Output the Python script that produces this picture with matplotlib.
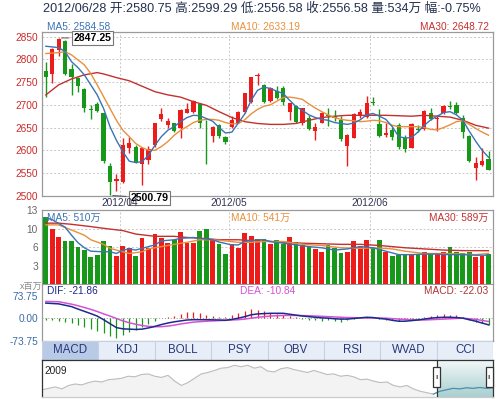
import numpy as np
import matplotlib.pyplot as plt
from matplotlib.patches import Rectangle
from matplotlib.colors import LinearSegmentedColormap

plt.rcParams['font.family'] = ['Liberation Sans', 'Noto Sans CJK SC', 'DejaVu Sans']

# ---- daily candles (2012/03 - 2012/06/28) ----
opens = [2775, 2769, 2820, 2840, 2780, 2758, 2734, 2691, 2702, 2681,
         2565, 2533, 2531, 2605, 2608, 2569, 2578, 2611, 2668, 2655,
         2659, 2650, 2683, 2685, 2702, 2639, 2631, 2655, 2630, 2652,
         2661, 2685, 2707, 2763, 2744, 2709, 2730, 2736, 2685, 2697,
         2661, 2672, 2643, 2661, 2677, 2675, 2666, 2609, 2628, 2675,
         2674, 2706, 2658, 2633, 2644, 2655, 2628, 2606, 2647, 2646,
         2681, 2668, 2681, 2697, 2699, 2672, 2631, 2560, 2567, 2580.75]
highs = [2795, 2826, 2847.25, 2842, 2791, 2762, 2736, 2699, 2707, 2682,
         2571, 2547, 2628, 2630, 2612, 2608, 2610, 2661, 2694, 2672,
         2661, 2690, 2703, 2710, 2704, 2666, 2654, 2657, 2632, 2675,
         2687, 2727, 2762, 2771, 2746, 2740, 2741, 2741, 2705, 2699,
         2694, 2677, 2659, 2685, 2694, 2688, 2675, 2635, 2681, 2690,
         2719, 2718, 2691, 2661, 2651, 2661, 2633, 2659, 2655, 2688,
         2692, 2677, 2699, 2709, 2707, 2677, 2633, 2586, 2606, 2599.29]
lows = [2718, 2749, 2808, 2766, 2721, 2729, 2685, 2669, 2684, 2573,
        2500.79, 2510, 2528, 2595, 2573, 2523, 2569, 2607, 2665, 2650,
        2641, 2628, 2681, 2683, 2650, 2570, 2619, 2626, 2613, 2648,
        2659, 2683, 2705, 2744, 2705, 2707, 2712, 2699, 2666, 2661,
        2655, 2644, 2622, 2659, 2653, 2664, 2621, 2565, 2626, 2672,
        2671, 2699, 2630, 2630, 2622, 2603, 2597, 2604, 2640, 2644,
        2666, 2643, 2679, 2690, 2679, 2628, 2575, 2534, 2565, 2556.58]
closes = [2762, 2823, 2845, 2769, 2762, 2741, 2694, 2689, 2687, 2576,
          2531, 2536, 2611, 2615, 2575, 2606, 2603, 2659, 2680, 2665,
          2643, 2688, 2691, 2708, 2661, 2637, 2652, 2631, 2619, 2666,
          2685, 2725, 2762, 2765, 2707, 2736, 2714, 2707, 2703, 2663,
          2692, 2647, 2652, 2683, 2675, 2670, 2624, 2633, 2679, 2685,
          2703, 2704, 2632, 2639, 2630, 2608, 2602, 2657, 2645, 2686,
          2668, 2670, 2697, 2695, 2681, 2641, 2577, 2571, 2576, 2556.58]
volumes = [11.7, 9.6, 8.3, 7.6, 7.6, 6.6, 6.0, 4.8, 5.1, 7.5,
           6.7, 5.0, 6.7, 6.3, 5.0, 8.1, 6.3, 8.8, 8.1, 7.2,
           7.7, 9.2, 7.3, 7.2, 9.3, 9.75, 8.0, 7.1, 5.3, 7.1,
           6.3, 8.9, 8.4, 8.0, 8.0, 7.1, 7.7, 7.1, 8.3, 7.4,
           6.9, 6.6, 6.1, 5.7, 6.8, 6.4, 5.4, 5.7, 7.6, 6.7,
           7.7, 6.4, 7.7, 5.6, 4.9, 5.1, 5.3, 5.2, 5.1, 5.6,
           5.4, 5.4, 5.7, 6.5, 5.6, 5.4, 5.6, 4.8, 5.0, 5.34]
macd_hist = [-6, -7, -9, -12, -16, -22, -28, -35, -42, -50,
             -58, -66, -56, -46, -38, -30, -20, -10, 2, 5,
             8, 13, 20, 21, 18, 12, 8, 5, 3, 10,
             18, 24, 30, 26, 22, 18, 14, 10, 6, 3,
             -2, -5, -6, -8, -6, -9, -11, -7, -3, 1,
             3, 2, -2, -5, -7, -9, -6, -4, -2, 3,
             8, 12, 15, 12, 9, 4, -5, -11, -17, -22]

# ---- moving averages (candle number, value) ----
ma5_day = [1, 3, 4, 5, 6, 7, 8, 9, 10, 11, 12, 13, 14, 15, 16, 17, 18, 19, 20, 21, 22, 23, 24, 25,
           26, 27, 28, 29, 30, 31, 32, 33, 34, 35, 36, 37, 38, 39, 40, 41, 42, 43, 44, 45, 46, 47,
           48, 49, 50, 51, 52, 53, 54, 55, 56, 57, 58, 59, 60, 61, 62, 63, 64, 65, 66, 67, 68, 69, 70]
ma5 = [2829, 2826, 2817, 2795, 2782, 2766, 2744, 2722, 2692, 2652, 2622, 2597, 2576, 2573, 2575,
       2589, 2611, 2630, 2644, 2652, 2663, 2672, 2677, 2676, 2670, 2664, 2650, 2638, 2640, 2660,
       2680, 2710, 2732, 2739, 2736, 2730, 2725, 2710, 2696, 2688, 2678, 2672, 2668, 2666, 2661,
       2659, 2657, 2660, 2667, 2678, 2681, 2675, 2668, 2652, 2630, 2627, 2628, 2640, 2655, 2667,
       2675, 2683, 2685, 2678, 2666, 2642, 2620, 2600, 2584.58]
ma10_day = [1, 3, 4, 5, 6, 7, 8, 9, 10, 11, 12, 13, 14, 15, 16, 17, 18, 19, 20, 21, 22, 23, 24, 25,
            26, 27, 28, 29, 30, 31, 32, 33, 34, 35, 36, 37, 38, 39, 40, 41, 42, 43, 44, 45, 46, 47,
            48, 49, 50, 51, 52, 53, 54, 55, 56, 57, 58, 59, 60, 61, 62, 63, 64, 65, 66, 67, 68, 69, 70]
ma10 = [2813, 2815, 2817, 2810, 2799, 2788, 2769, 2744, 2718, 2692, 2666, 2644, 2630, 2615, 2606,
        2600, 2600, 2608, 2619, 2633, 2644, 2652, 2661, 2666, 2668, 2668, 2666, 2661, 2658, 2659,
        2667, 2680, 2690, 2697, 2700, 2708, 2716, 2717, 2715, 2712, 2702, 2693, 2685, 2678, 2672,
        2668, 2666, 2665, 2663, 2664, 2666, 2665, 2661, 2655, 2652, 2652, 2652, 2652, 2650, 2646,
        2645, 2650, 2656, 2663, 2665, 2657, 2648, 2640, 2633.19]
ma30_day = [1, 3, 5, 7, 9, 10, 12, 14, 16, 18, 20, 22, 24, 26, 28, 30, 32, 34, 36, 38, 40, 42, 44,
            46, 48, 50, 52, 54, 56, 58, 60, 62, 64, 66, 68, 70]
ma30 = [2722, 2744, 2757, 2766, 2771, 2768, 2760, 2753, 2741, 2729, 2722, 2717, 2707, 2699, 2685,
        2672, 2663, 2659, 2657, 2657, 2659, 2666, 2672, 2675, 2677, 2677, 2677, 2677, 2676, 2675,
        2677, 2675, 2673, 2666, 2655, 2648.72]

vma5_day = [1, 2, 4, 5, 6, 7, 8, 10, 11, 12, 13, 14, 15, 16, 18, 19, 21, 22, 24, 25, 27, 28, 30, 31,
            32, 34, 35, 36, 38, 40, 42, 44, 46, 48, 50, 52, 54, 56, 58, 60, 62, 64, 66, 68, 70]
vma5 = [11.65, 11.3, 10.0, 8.6, 7.3, 6.4, 5.8, 5.7, 5.7, 5.4, 6.0, 6.2, 6.0, 6.3, 6.9, 7.6, 7.8,
        8.05, 8.2, 8.05, 7.8, 7.4, 6.9, 6.9, 7.5, 7.8, 7.8, 7.5, 7.2, 6.9, 6.6, 6.4, 6.0, 6.2, 6.6,
        6.4, 5.8, 5.2, 5.2, 5.3, 5.3, 5.2, 5.2, 5.1, 5.10]
vma10_day = [1, 3, 5, 7, 8, 10, 11, 13, 14, 16, 17, 19, 21, 23, 25, 27, 29, 31, 33, 35, 38, 41, 44,
             47, 50, 52, 55, 57, 60, 63, 66, 68, 70]
vma10 = [10.4, 10.4, 9.5, 8.6, 7.8, 7.0, 6.3, 5.7, 5.4, 5.7, 6.2, 6.6, 7.0, 7.35, 7.8, 7.8, 7.6,
         7.35, 7.35, 7.5, 7.5, 7.0, 6.8, 6.4, 6.3, 6.4, 6.2, 5.8, 5.4, 5.4, 5.3, 5.2, 5.41]
vma30_day = [1, 3, 5, 8, 10, 13, 15, 18, 21, 23, 26, 28, 31, 34, 36, 38, 41, 44, 47, 50, 53, 57,
             60, 63, 66, 70]
vma30 = [10.7, 10.7, 10.5, 10.1, 9.8, 9.4, 8.8, 8.4, 8.4, 8.2, 8.0, 7.8, 7.8, 7.6, 7.5, 7.35, 7.2,
         7.1, 7.0, 7.0, 6.8, 6.4, 6.2, 6.0, 5.9, 5.89]

dif_day = [1, 3, 5, 6, 8, 9, 10, 11, 12, 13, 14, 15, 16, 17, 18, 19, 20, 21, 22, 23, 24, 26, 28,
           29, 30, 31, 32, 33, 34, 35, 36, 37, 38, 39, 40, 41, 42, 43, 44, 45, 46, 47, 48, 49, 50,
           51, 52, 53, 54, 55, 56, 57, 58, 59, 60, 61, 62, 63, 64, 65, 66, 67, 68, 69, 70]
dif = [49.5, 47, 38, 30, 15, 7, -5, -18, -31, -35, -36, -37, -36, -32, -27, -21, -16, -12, -9, -6,
       -5, -5, -6, -7, -4, 0, 5, 11, 14, 15, 16, 16, 16, 13, 10, 7, 5, 3, 1, 0, -2, -3, -3, -1, 1,
       3, 2, -1, -3, -7, -10, -10, -8, -6, -3, 0, 2, 3, 3, 2, 0, -5, -10, -16, -21.86]
dea_day = [1, 3, 5, 6, 8, 9, 10, 11, 12, 13, 14, 15, 16, 17, 18, 19, 20, 21, 22, 23, 24, 26, 28,
           30, 31, 32, 33, 34, 35, 36, 38, 40, 42, 44, 46, 48, 50, 52, 54, 56, 58, 60, 62, 64, 66,
           68, 70]
dea = [55, 54, 46, 41, 29, 22, 14, 7, -1, -9, -15, -20, -24, -27, -28, -28, -26, -23, -19, -16, -13,
       -10, -8, -6, -5, -3, 0, 3, 5, 7, 9, 9, 8, 6, 4, 2, 1, 1, 0, -3, -5, -6, -4, -2, 0, -4, -10.84]

month_day = [13, 30, 52]
month_labels = ['2012/04', '2012/05', '2012/06']
tab_names = ['MACD', 'KDJ', 'BOLL', 'PSY', 'OBV', 'RSI', 'WVAD', 'CCI']

# overview strip (index level since 2009)
overview = [25, 30, 35, 28, 40, 45, 42, 50, 55, 52, 60, 62, 65, 72, 70, 78, 80, 72, 68, 75,
            55, 40, 50, 65, 80, 85, 92, 100, 102, 110, 105, 110, 100, 105, 90, 87, 98, 102, 95,
            90, 85, 92, 85, 78, 80, 72, 75, 70, 60, 62, 55, 50, 52, 40, 35, 40, 28, 20, 15, 10,
            20, 25, 30, 28, 32, 30, 33, 30, 32]

RED = '#ee1b1b'
GREEN = '#17981a'
C5, C10, C30 = '#3a74b4', '#e8903c', '#c43030'
GRID = '#c8c8c8'
BORDER = '#9a9a9a'


def box(l, t, r, b):
    return [l / 500, 1 - b / 399, (r - l) / 500, (b - t) / 399]


fig = plt.figure(figsize=(5, 3.99), dpi=100)
fig.patch.set_facecolor('white')

n = len(closes)
x = np.arange(1, n + 1)
up = np.array(closes) >= np.array(opens)
cols = [RED if u else GREEN for u in up]
xl = (0.4, n + 0.7)

fig.text(0.524, 0.977, '2012/06/28 开:2580.75 高:2599.29 低:2556.58 收:2556.58 量:534万 幅:-0.75%',
         ha='center', va='center', fontsize=9.1, color='#25304f')

# ---- price panel ----
ax = fig.add_axes(box(42, 32.3, 493, 195.7))
ax.set_xlim(*xl)
ax.set_ylim(2500, 2859.7)
ax.vlines(x, lows, highs, colors=cols, lw=1, zorder=3)
bottoms = np.minimum(opens, closes)
heights = np.maximum(np.abs(np.array(closes) - np.array(opens)), 1.6)
ax.bar(x, heights, bottom=bottoms, width=0.66, color=cols, zorder=4)
ax.plot(ma30_day, ma30, color=C30, lw=1, zorder=5)
ax.plot(ma10_day, ma10, color=C10, lw=1, zorder=5)
ax.plot(ma5_day, ma5, color=C5, lw=1, zorder=5)
ax.set_yticks([2500, 2550, 2600, 2650, 2700, 2750, 2800, 2850])
ax.set_xticks([])
ax.tick_params(axis='y', length=0, pad=3, labelsize=7.3, labelcolor='#cc2a2a')
ax.grid(axis='y', color=GRID, ls=(0, (2, 2)), lw=0.7)
for d in month_day:
    ax.axvline(d - 0.5, color=GRID, ls=(0, (2, 2)), lw=0.7, zorder=1)
for s in ax.spines.values():
    s.set_color(BORDER)
    s.set_linewidth(0.9)
ax.text(0.012, 1.03, 'MA5: 2584.58', transform=ax.transAxes, color=C5, fontsize=7.3, va='center')
ax.text(0.42, 1.03, 'MA10: 2633.19', transform=ax.transAxes, color=C10, fontsize=7.3, va='center')
ax.text(0.99, 1.03, 'MA30: 2648.72', transform=ax.transAxes, color=C30, fontsize=7.3, va='center', ha='right')

# high / low markers
hi = int(np.argmax(highs))
lo = int(np.argmin(lows))
ax.annotate(f'{highs[hi]:.2f}', xy=(x[hi], highs[hi]), xytext=(x[hi] + 5.3, highs[hi]),
            fontsize=7.6, fontweight='bold', va='center', ha='center', zorder=8,
            bbox=dict(boxstyle='square,pad=0.15', fc='white', ec='#777777', lw=0.8),
            arrowprops=dict(arrowstyle='-', color='#555555', lw=0.7))
ax.annotate(f'{lows[lo]:.2f}', xy=(x[lo], lows[lo]), xytext=(x[lo] + 6.2, lows[lo] - 6),
            fontsize=7.6, fontweight='bold', va='center', ha='center', zorder=8, annotation_clip=False,
            bbox=dict(boxstyle='square,pad=0.15', fc='white', ec='#777777', lw=0.8),
            arrowprops=dict(arrowstyle='-', color='#555555', lw=0.7))

for d, lab in zip(month_day, month_labels):
    fig.text((42 + (d - 0.5 - xl[0]) / (xl[1] - xl[0]) * 451) / 500, 1 - 203.5 / 399, lab,
             ha='center', va='center', fontsize=7.3, color='#333355')

# ---- volume panel ----
av = fig.add_axes(box(42, 210, 493, 284.4))
av.set_xlim(*xl)
av.set_ylim(0, 13)
av.bar(x, volumes, width=0.74, color=cols, zorder=3)
av.plot(vma30_day, vma30, color=C30, lw=1, zorder=4)
av.plot(vma10_day, vma10, color=C10, lw=1, zorder=4)
av.plot(vma5_day, vma5, color=C5, lw=1, zorder=4)
av.set_yticks([3.25, 6.5, 9.75, 13])
av.set_yticklabels(['3', '6', '10', '13'])
av.set_xticks([])
av.tick_params(axis='y', length=0, pad=3, labelsize=7.3, labelcolor='#666666')
av.grid(axis='y', color=GRID, ls=(0, (2, 2)), lw=0.7)
for d in month_day:
    av.axvline(d - 0.5, color=GRID, ls=(0, (2, 2)), lw=0.7, zorder=1)
for s in av.spines.values():
    s.set_color(BORDER)
    s.set_linewidth(0.9)
av.text(0.012, 0.89, 'MA5: 510万', transform=av.transAxes, color=C5, fontsize=7.3, va='center', zorder=6)
av.text(0.42, 0.89, 'MA10: 541万', transform=av.transAxes, color=C10, fontsize=7.3, va='center', zorder=6)
av.text(0.99, 0.89, 'MA30: 589万', transform=av.transAxes, color=C30, fontsize=7.3, va='center', ha='right', zorder=6)
fig.text(20 / 500, 1 - 286 / 399, 'x百万', fontsize=6.5, color='#888888', va='center')

# ---- MACD panel ----
am = fig.add_axes(box(42, 285, 493, 341))
am.set_xlim(*xl)
am.set_ylim(-75, 109)
hist_cols = [RED if v > 0 else GREEN for v in macd_hist]
am.vlines(x, 0, macd_hist, colors=hist_cols, lw=0.9, zorder=3)
am.axhline(0, color='#999999', ls=(0, (1, 2)), lw=0.7, zorder=2)
am.plot(dea_day, dea, color='#d552d5', lw=1.1, zorder=4)
am.plot(dif_day, dif, color='#1c2a8c', lw=1.1, zorder=5)
am.set_yticks([-73.75, 0, 73.75])
am.set_yticklabels(['-73.75', '0.00', '73.75'])
am.set_xticks([])
am.tick_params(axis='y', length=0, pad=3, labelsize=7.3, labelcolor='#3a6aa8')
for s in am.spines.values():
    s.set_color(BORDER)
    s.set_linewidth(0.9)
am.spines['top'].set_visible(False)
am.text(0.012, 0.9, 'DIF: -21.86', transform=am.transAxes, color='#1c2a8c', fontsize=7.3, va='center')
am.text(0.44, 0.9, 'DEA: -10.84', transform=am.transAxes, color='#d552d5', fontsize=7.3, va='center')
am.text(0.99, 0.9, 'MACD: -22.03', transform=am.transAxes, color='#b03535', fontsize=7.3, va='center', ha='right')

# ---- indicator tabs ----
at = fig.add_axes(box(42, 341, 493, 359.5))
at.set_xlim(0, len(tab_names))
at.set_ylim(0, 1)
at.axis('off')
for i, name in enumerate(tab_names):
    fc = '#b8cae6' if i == 0 else '#e8eef8'
    at.add_patch(Rectangle((i, 0), 1, 1, fc=fc, ec='#c5d2e6', lw=0.8))
    at.text(i + 0.5, 0.5, name, ha='center', va='center', fontsize=8.3, color='#26367a')

# ---- overview strip ----
ao = fig.add_axes(box(42, 359.5, 493, 397))
ox = np.arange(len(overview))
win = len(overview) - 9.5
grad = np.linspace(0, 1, 50).reshape(-1, 1)
ao.imshow(grad, extent=(win, len(overview) - 1, 0, 130), aspect='auto', origin='upper',
          cmap=LinearSegmentedColormap.from_list('w', ['#f4f8f8', '#a9cfd0']), zorder=0)
ao.fill_between(ox[:-9], overview[:-9], 0, color='#f3f3f3', zorder=1)
ao.plot(ox, overview, color='#bdbdbd', lw=0.8, zorder=2)
ao.plot(ox[-10:], overview[-10:], color='#3c8fb0', lw=0.8, zorder=3)
ao.axvline(win, color='#333333', lw=0.9, zorder=4)
ao.set_xlim(0, len(overview) - 1)
ao.set_ylim(0, 130)
ao.set_xticks([])
ao.set_yticks([])
for s in ao.spines.values():
    s.set_color('#333333')
    s.set_linewidth(0.9)
ao.spines['bottom'].set_color('#cccccc')
ao.text(0.005, 0.68, '2009', transform=ao.transAxes, fontsize=7.3, color='#222222', va='center')
hw = 7 / 451
for hx in (win / (len(overview) - 1), 0.992):
    ao.add_patch(Rectangle((hx - hw / 2, 0.27), hw, 0.53, transform=ao.transAxes,
                           fc='white', ec='#333333', lw=0.9, zorder=6, clip_on=False))
    ao.text(hx, 0.52, 'II', transform=ao.transAxes, ha='center', va='center', fontsize=4.5,
            color='#333333', zorder=7)

fig.savefig('out.png', dpi=100)
